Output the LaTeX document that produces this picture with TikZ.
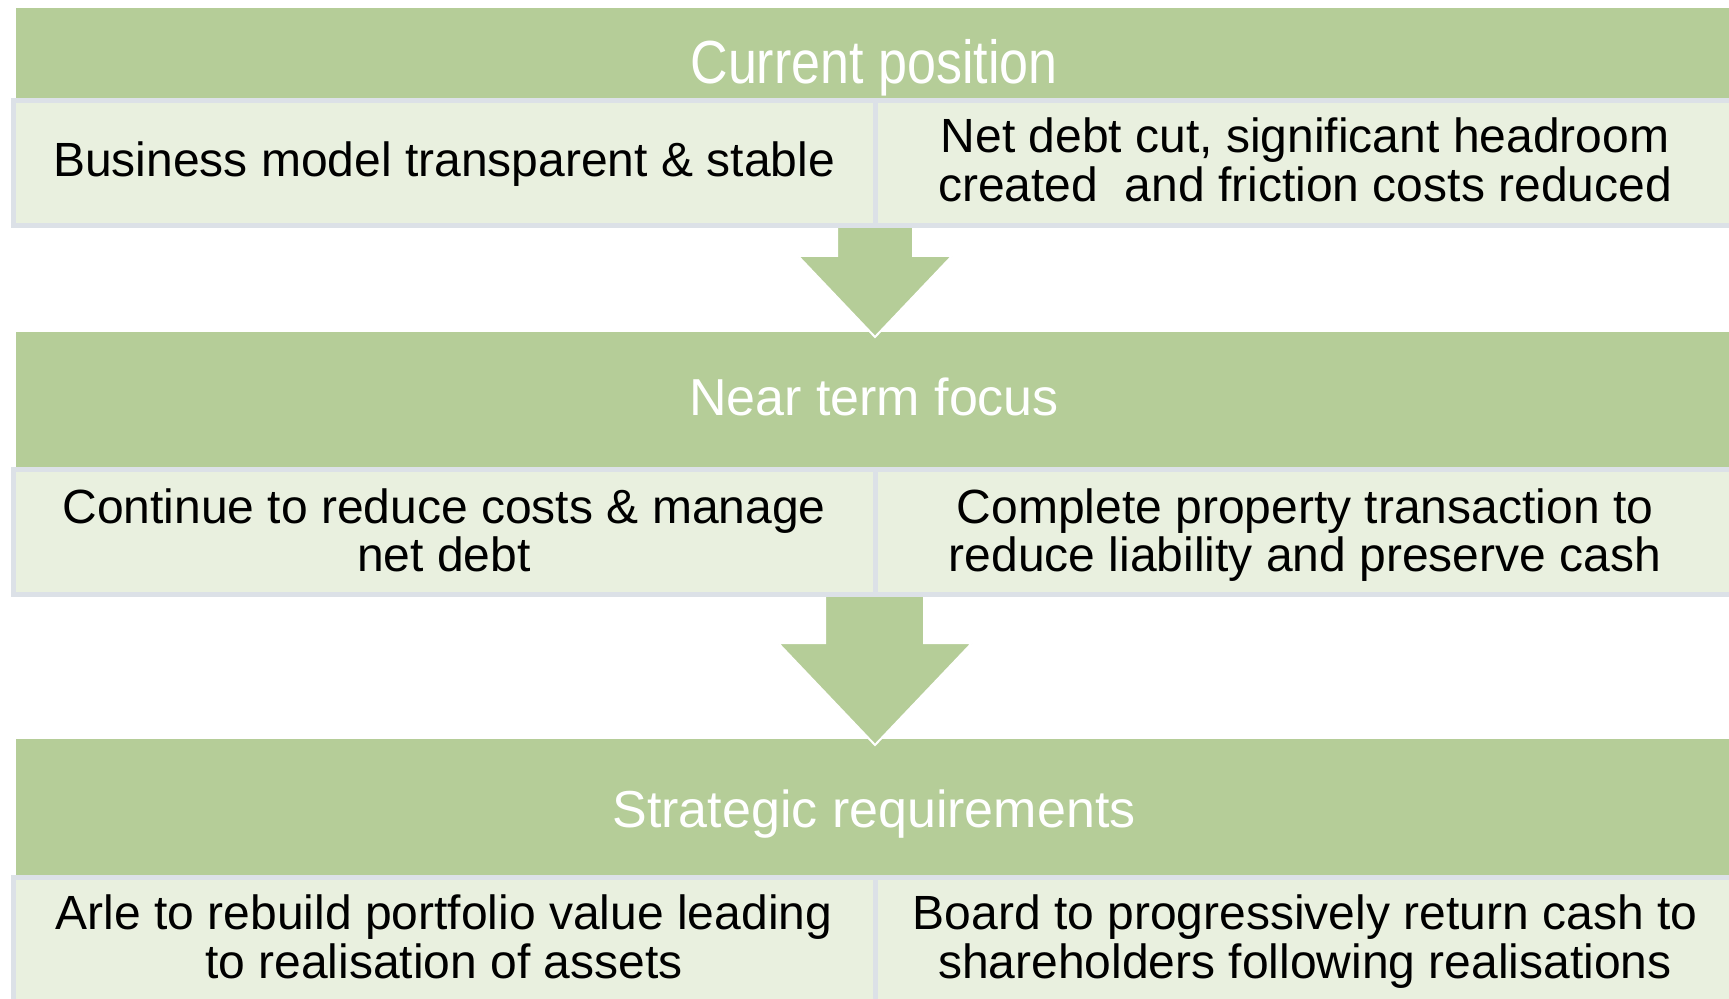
\documentclass[tikz,border=0pt]{standalone}
\usepackage{fontspec}
\usepackage{graphicx}
\setmainfont{Liberation Sans}
\definecolor{hdrgreen}{HTML}{B5CD98}
\definecolor{cellfill}{HTML}{E9F0DF}
\definecolor{cellline}{HTML}{DCE1E7}
\tikzset{
  hdr/.style={fill=hdrgreen},
  downarrow/.style={fill=hdrgreen, draw=white, line width=1pt, line join=miter},
  cell/.style={fill=cellfill, draw=cellline, line width=2.5pt},
  hdrtext/.style={text=white, font=\fontsize{26pt}{26pt}\selectfont, inner sep=0pt, anchor=base},
  celltext/.style={text=black, font=\fontsize{24pt}{24.5pt}\selectfont, inner sep=0pt, anchor=base, align=center}
}
\begin{document}
\begin{tikzpicture}[x=0.5pt, y=-0.5pt]
\useasboundingbox (0,0) rectangle (1729,999);
\clip (0,0) rectangle (1729,999);
\fill[white] (0,0) rectangle (1729,999);
% headers
\path[hdr] (16,8) rectangle (1745,99);
\path[hdr] (16,332) rectangle (1745,467);
\path[hdr] (16,739) rectangle (1745,875);
% block arrows
\path[downarrow] (837,215) -- (837,256) -- (798,256) -- (875,337) -- (952,256) -- (913,256) -- (913,215) -- cycle;
\path[downarrow] (825,585) -- (825,643) -- (778,643) -- (875,745) -- (972,643) -- (924,643) -- (924,585) -- cycle;
% cells
\path[cell] (13.5,101) rectangle (875,225.5);
\path[cell] (875,101) rectangle (1745,225.5);
\path[cell] (13.5,469.5) rectangle (875,595);
\path[cell] (875,469.5) rectangle (1745,595);
\path[cell] (13.5,877) rectangle (875,1020);
\path[cell] (875,877) rectangle (1745,1020);
% header texts
\node[hdrtext] (t1) at (874,84) {\scalebox{1}[1.17]{Current position}};
\node[hdrtext] (t2) at (874,416) {Near term focus};
\node[hdrtext] (t3) at (874,827) {Strategic requirements};
% cell texts
\node[celltext] (c1l) at (444,177) {Business model transparent \& stable};
\node[celltext] (c1r) at (1305,202) {Net debt cut, significant headroom\\created\ \ and friction costs reduced};
\node[celltext] (c2l) at (444,572) {Continue to reduce costs \& manage\\net debt};
\node[celltext] (c2r) at (1305,572) {Complete property transaction to\\reduce liability and preserve cash};
\node[celltext] (c3l) at (444,978) {Arle to rebuild portfolio value leading\\to realisation of assets};
\node[celltext] (c3r) at (1305,978) {Board to progressively return cash to\\shareholders following realisations};
\end{tikzpicture}
\end{document}
